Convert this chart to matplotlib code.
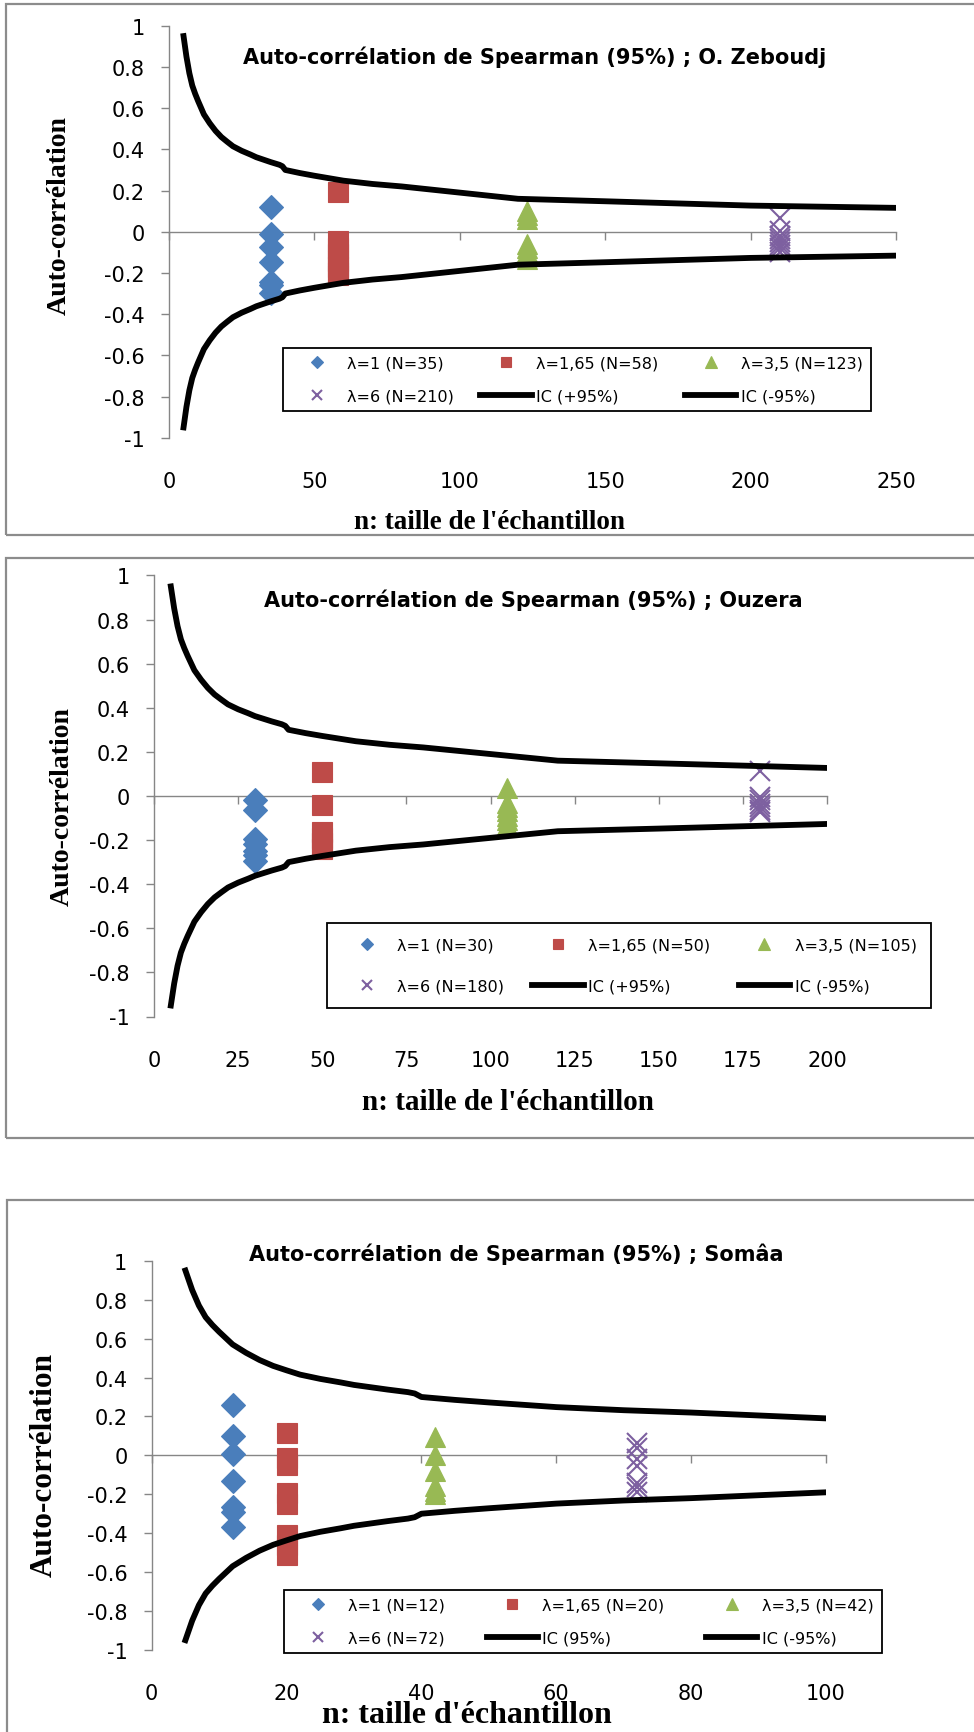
import matplotlib
matplotlib.use("Agg")
import matplotlib.pyplot as plt
from matplotlib.patches import Rectangle
from matplotlib.ticker import FixedLocator, FuncFormatter

plt.rcParams['font.family'] = ['DejaVu Sans']
plt.rcParams['axes.unicode_minus'] = False

# 95% Spearman confidence bounds versus sample size
N_IC = [5, 6, 7, 8, 9, 10, 12, 14, 16, 18, 20, 22, 25, 28, 30, 35, 38, 39, 40,
        45, 50, 60, 70, 80, 90, 100, 120, 150, 200, 250]
IC_PLUS = [0.95, 0.85, 0.77, 0.71, 0.67, 0.635, 0.57, 0.527, 0.49, 0.46, 0.437,
           0.415, 0.393, 0.375, 0.362, 0.338, 0.325, 0.318, 0.300, 0.285, 0.272,
           0.248, 0.232, 0.220, 0.205, 0.190, 0.160, 0.148, 0.127, 0.116]
IC_MINUS = [-0.95, -0.85, -0.77, -0.71, -0.67, -0.635, -0.57, -0.527, -0.49, -0.46,
            -0.437, -0.415, -0.393, -0.375, -0.362, -0.338, -0.325, -0.318, -0.300,
            -0.285, -0.272, -0.248, -0.232, -0.220, -0.205, -0.190, -0.160, -0.148,
            -0.127, -0.116]

LAMBDAS = ['1', '1,65', '3,5', '6']

# O. Zeboudj
ZEB_N = [35, 58, 123, 210]
ZEB_L1 = [0.12, -0.01, -0.075, -0.145, -0.245, -0.26, -0.295]
ZEB_L165 = [0.195, -0.045, -0.08, -0.11, -0.14, -0.17, -0.2, -0.21]
ZEB_L35 = [0.10, 0.08, 0.06, -0.06, -0.08, -0.10, -0.12, -0.13]
ZEB_L6 = [0.065, 0.005, -0.02, -0.035, -0.05, -0.065, -0.08, -0.10]

# Ouzera
OUZ_N = [30, 50, 105, 180]
OUZ_L1 = [-0.02, -0.065, -0.195, -0.22, -0.25, -0.27, -0.295]
OUZ_L165 = [0.11, -0.04, -0.165, -0.19, -0.215, -0.24]
OUZ_L35 = [0.035, -0.03, -0.05, -0.07, -0.09, -0.11, -0.13]
OUZ_L6 = [0.113, -0.005, -0.02, -0.035, -0.05, -0.065, -0.075]

# Somâa
SOM_N = [12, 20, 42, 72]
SOM_L1 = [0.26, 0.10, 0.005, -0.13, -0.265, -0.29, -0.37]
SOM_L165 = [0.115, -0.015, -0.05, -0.195, -0.25, -0.41, -0.46, -0.51]
SOM_L35 = [0.095, 0.0, -0.08, -0.16, -0.185, -0.20]
SOM_L6 = [0.065, 0.04, -0.02, -0.055, -0.14, -0.165, -0.19]

Y_TICKS = [-1, -0.8, -0.6, -0.4, -0.2, 0, 0.2, 0.4, 0.6, 0.8, 1]

COLORS = ['#4A7EBB', '#BE4B48', '#98B954', '#7D60A0']
MARKERS = [('D', 12), ('s', 14), ('^', 15), ('x', 14)]
AXIS_GRAY = '#868686'
FRAME_GRAY = '#8C8C8C'

W, H = 974, 1733


def fx(x):
    return x / W


def fy(y):
    return 1 - y / H


panels = [
    dict(name='O. Zeboudj', n=ZEB_N, series=[ZEB_L1, ZEB_L165, ZEB_L35, ZEB_L6],
         xmax=250, xstep=50, ic_labels=['IC (+95%)', 'IC (-95%)'],
         box=(169, 26.8, 896, 438.7), frame=(6, 5.4, 536),
         title_xy=(535, 57), ylab_xy=(59, 216), ylab_size=20,
         xlab='n: taille de l\'échantillon', xlab_xy=(489, 523), xlab_size=19.5,
         leg=(283, 349, 871, 414), leg_space=1.08, leg_pad=0.5),
    dict(name='Ouzera', n=OUZ_N, series=[OUZ_L1, OUZ_L165, OUZ_L35, OUZ_L6],
         xmax=200, xstep=25, ic_labels=['IC (+95%)', 'IC (-95%)'],
         box=(154, 576.4, 827, 1017.5), frame=(6, 559.3, 1139),
         title_xy=(533, 600.7), ylab_xy=(62, 807), ylab_size=20,
         xlab='n: taille de l\'échantillon', xlab_xy=(508, 1103), xlab_size=21,
         leg=(327, 924, 931, 1007.5), leg_space=1.65, leg_pad=0.9),
    dict(name='Somâa', n=SOM_N, series=[SOM_L1, SOM_L165, SOM_L35, SOM_L6],
         xmax=100, xstep=20, ic_labels=['IC (95%)', 'IC (-95%)'],
         box=(151.7, 1261.8, 826, 1650.9), frame=(7, 1201, 1760),
         title_xy=(516, 1254), ylab_xy=(44, 1465), ylab_size=22.5,
         xlab='n: taille d\'échantillon', xlab_xy=(467, 1716), xlab_size=23,
         leg=(284, 1591, 882, 1654), leg_space=1.08, leg_pad=0.5),
]

fig = plt.figure(figsize=(W / 100, H / 100), dpi=100)
fig.patch.set_facecolor('white')

for p in panels:
    # chart-area frame (runs past the right edge)
    fl, ft, fb = p['frame']
    fig.patches.append(Rectangle((fx(fl), fy(fb)), 1.2, (fb - ft) / H,
                                 transform=fig.transFigure, fill=False,
                                 edgecolor=FRAME_GRAY, linewidth=1.6, zorder=0))

    x0, y0, x1, y1 = p['box']
    ax = fig.add_axes([fx(x0), fy(y1), (x1 - x0) / W, (y1 - y0) / H])
    ax.set_xlim(0, p['xmax'])
    ax.set_ylim(-1, 1)
    ax.patch.set_alpha(0)

    handles = []
    for i, vals in enumerate(p['series']):
        m, ms = MARKERS[i]
        kw = dict(marker=m, markersize=ms, linestyle='none', color=COLORS[i],
                  markeredgecolor=COLORS[i])
        kw['markeredgewidth'] = 1.5 if m == 'x' else 0.8
        h, = ax.plot([p['n'][i]] * len(vals), vals, zorder=3, **kw)
        h.set_label(f"λ={LAMBDAS[i]} (N={p['n'][i]})")
        handles.append(h)

    k = sum(1 for n in N_IC if n <= p['xmax'])
    up, = ax.plot(N_IC[:k], IC_PLUS[:k], color='black', lw=4.2, zorder=4,
                  solid_joinstyle='round', label=p['ic_labels'][0])
    lo, = ax.plot(N_IC[:k], IC_MINUS[:k], color='black', lw=4.2, zorder=4,
                  solid_joinstyle='round', label=p['ic_labels'][1])

    # axes: y on the left, x crossing at zero with labels under the plot
    for s in ['top', 'right']:
        ax.spines[s].set_visible(False)
    ax.spines['bottom'].set_position(('data', 0))
    for s in ['left', 'bottom']:
        ax.spines[s].set_color(AXIS_GRAY)
        ax.spines[s].set_linewidth(1.0)

    xticks = list(range(0, p['xmax'] + 1, p['xstep']))
    ax.set_xticks(xticks)
    ax.tick_params(axis='x', direction='out', length=5.5, width=1.0,
                   color=AXIS_GRAY, labelbottom=False)
    ax.yaxis.set_major_locator(FixedLocator(Y_TICKS))
    ax.yaxis.set_major_formatter(FuncFormatter(lambda v, pos: f"{round(v, 1):g}"))
    ax.tick_params(axis='y', direction='out', length=5.5, width=1.0,
                   color=AXIS_GRAY, labelsize=15, pad=12)

    sec = ax.secondary_xaxis('bottom')
    sec.set_xticks(xticks)
    sec.tick_params(length=0, pad=24, labelsize=15)
    sec.spines['bottom'].set_visible(False)

    fig.text(fx(p['title_xy'][0]), fy(p['title_xy'][1]),
             f"Auto-corrélation de Spearman (95%) ; {p['name']}",
             ha='center', va='center', fontsize=15, fontweight='bold')
    fig.text(fx(p['ylab_xy'][0]), fy(p['ylab_xy'][1]), 'Auto-corrélation',
             rotation=90, ha='center', va='center', fontsize=p['ylab_size'],
             fontweight='bold', family='Liberation Serif')
    fig.text(fx(p['xlab_xy'][0]), fy(p['xlab_xy'][1]), p['xlab'],
             ha='center', va='center', fontsize=p['xlab_size'],
             fontweight='bold', family='Liberation Serif')

    # legend filled row by row: 3 columns, 2 rows
    order = [handles[0], handles[3], handles[1], up, handles[2], lo]
    lx0, ly0, lx1, ly1 = p['leg']
    leg = ax.legend(handles=order, labels=[h.get_label() for h in order],
                    ncol=3, loc='upper left', mode='expand',
                    bbox_to_anchor=(fx(lx0), fy(ly1), (lx1 - lx0) / W, (ly1 - ly0) / H),
                    bbox_transform=fig.transFigure, borderaxespad=0,
                    fontsize=11.5, markerscale=0.55, handlelength=3.2,
                    handletextpad=0.3, labelspacing=p['leg_space'],
                    borderpad=p['leg_pad'], fancybox=False, framealpha=1,
                    edgecolor='black')
    leg.get_frame().set_linewidth(1.3)
    leg.set_zorder(5)

fig.savefig('out.png', dpi=100, facecolor='white')
